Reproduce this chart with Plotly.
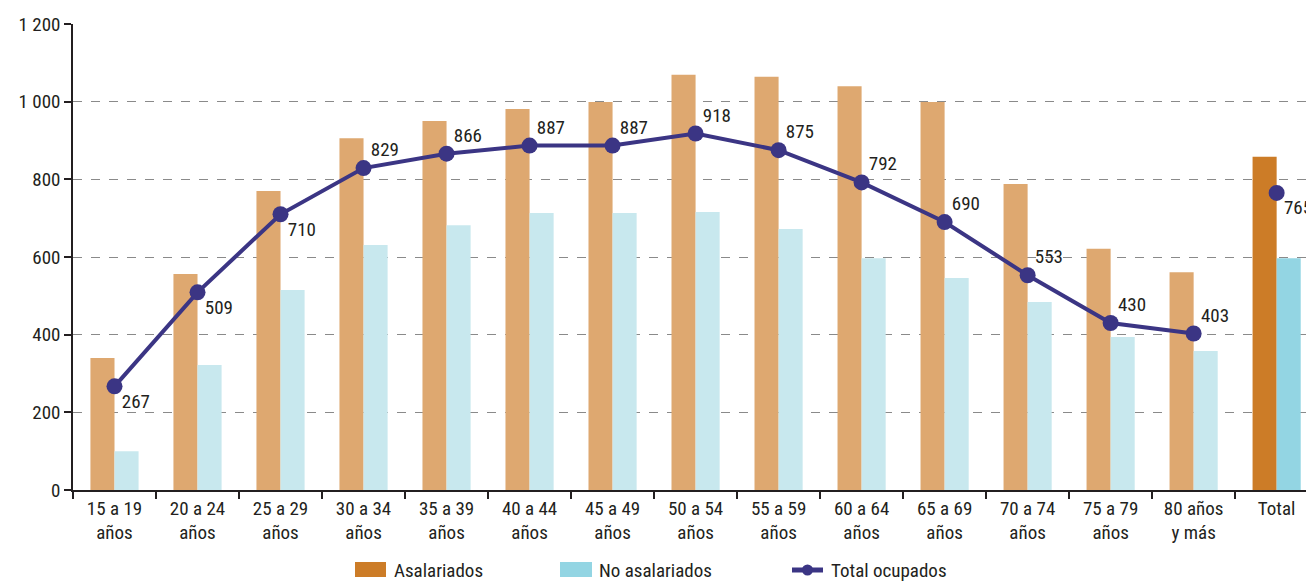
import plotly.graph_objects as go

categories = ["15 a 19<br>años", "20 a 24<br>años", "25 a 29<br>años", "30 a 34<br>años",
              "35 a 39<br>años", "40 a 44<br>años", "45 a 49<br>años", "50 a 54<br>años",
              "55 a 59<br>años", "60 a 64<br>años", "65 a 69<br>años", "70 a 74<br>años",
              "75 a 79<br>años", "80 años<br>y más", "Total"]
asalariados = [340, 556, 770, 906, 950, 981, 999, 1069, 1064, 1040, 999, 788, 621, 561, 858]
no_asalariados = [100, 322, 515, 631, 682, 713, 713, 716, 672, 597, 546, 484, 394, 358, 597]
total_ocupados = [267, 509, 710, 829, 866, 887, 887, 918, 875, 792, 690, 553, 430, 403, 765]
series_names = ["Asalariados", "No asalariados", "Total ocupados"]

FONT = "Liberation Sans Narrow, Roboto Condensed, Arial Narrow, sans-serif"
LINE_C = "#3b3584"
TXT_C = "#231f20"
SAL_L, SAL_D = "#dea870", "#cc7c27"
NOS_L, NOS_D = "#c8e8ee", "#93d5e3"

lbl_pos = ["bottom right", "bottom right", "bottom right"] + ["top right"] * 11 + ["bottom right"]

fig = go.Figure()
fig.add_trace(go.Bar(x=categories[:-1], y=asalariados[:-1], marker_color=SAL_L,
                     offsetgroup="a", name=series_names[0], marker_line_width=0))
fig.add_trace(go.Bar(x=categories[:-1], y=no_asalariados[:-1], marker_color=NOS_L,
                     offsetgroup="b", name=series_names[1], marker_line_width=0))
fig.add_trace(go.Bar(x=categories[-1:], y=asalariados[-1:], marker_color=SAL_D,
                     offsetgroup="a", name=series_names[0], marker_line_width=0))
fig.add_trace(go.Bar(x=categories[-1:], y=no_asalariados[-1:], marker_color=NOS_D,
                     offsetgroup="b", name=series_names[1], marker_line_width=0))
fig.add_trace(go.Scatter(x=categories[:-1], y=total_ocupados[:-1], mode="lines+markers",
                         line=dict(color=LINE_C, width=4), marker=dict(size=16, color=LINE_C),
                         name=series_names[2]))
fig.add_trace(go.Scatter(x=categories[-1:], y=total_ocupados[-1:], mode="markers",
                         marker=dict(size=16, color=LINE_C), name=series_names[2]))
# value labels
fig.add_trace(go.Scatter(x=categories, y=total_ocupados, mode="markers+text",
                         marker=dict(size=10, color=LINE_C, opacity=0),
                         text=[str(v) for v in total_ocupados], textposition=lbl_pos,
                         textfont=dict(size=19, color=TXT_C, family=FONT),
                         hoverinfo="skip", cliponaxis=False))

# --- manual legend (page pixel positions -> paper coords) ---
PL, PW, PB, PH = 73, 1241, 490, 466
def px(x):
    return (x - PL) / PW
def py(y):
    return (PB - y) / PH

shapes = [
    dict(type="rect", xref="paper", yref="paper", x0=px(355), x1=px(386), y0=py(577), y1=py(562),
         fillcolor=SAL_D, line_width=0),
    dict(type="rect", xref="paper", yref="paper", x0=px(560), x1=px(592), y0=py(577), y1=py(562),
         fillcolor=NOS_D, line_width=0),
    dict(type="line", xref="paper", yref="paper", x0=px(792), x1=px(823), y0=py(570), y1=py(570),
         line=dict(color=LINE_C, width=5)),
    dict(type="circle", xref="paper", yref="paper", xsizemode="pixel", ysizemode="pixel",
         xanchor=px(807.5), yanchor=py(570), x0=-5.5, x1=5.5, y0=-5.5, y1=5.5,
         fillcolor=LINE_C, line_width=0),
]
annotations = [
    dict(xref="paper", yref="paper", x=px(x0), y=py(570), text=t, showarrow=False,
         xanchor="left", yanchor="middle", font=dict(size=19, family=FONT, color=TXT_C))
    for x0, t in zip([392, 597, 829], series_names)
]

fig.update_layout(
    width=1306, height=573,
    margin=dict(l=65, r=0, t=16, b=91),
    plot_bgcolor="white", paper_bgcolor="white",
    barmode="group", bargap=0.42, bargroupgap=0,
    separators=", ",
    showlegend=False,
    shapes=shapes, annotations=annotations,
    font=dict(family=FONT, size=19, color=TXT_C),
    xaxis=dict(type="category", range=[-0.5, 14.45], tickson="boundaries",
               showline=True, linecolor="#231f20", linewidth=1.5,
               ticks="outside", ticklen=7, tickcolor="#231f20", tickwidth=1.5,
               showgrid=False, tickfont=dict(size=19, family=FONT, color=TXT_C)),
    yaxis=dict(range=[0, 1200], dtick=200, tickformat=",d",
               showline=True, linecolor="#231f20", linewidth=1.5,
               ticks="outside", ticklen=7, tickcolor="#231f20", tickwidth=1.5,
               showgrid=True, gridcolor="#8a8a8a", griddash="dash", gridwidth=1,
               zeroline=False, tickfont=dict(size=19, family=FONT, color=TXT_C)),
)

fig.write_html("out.html")
